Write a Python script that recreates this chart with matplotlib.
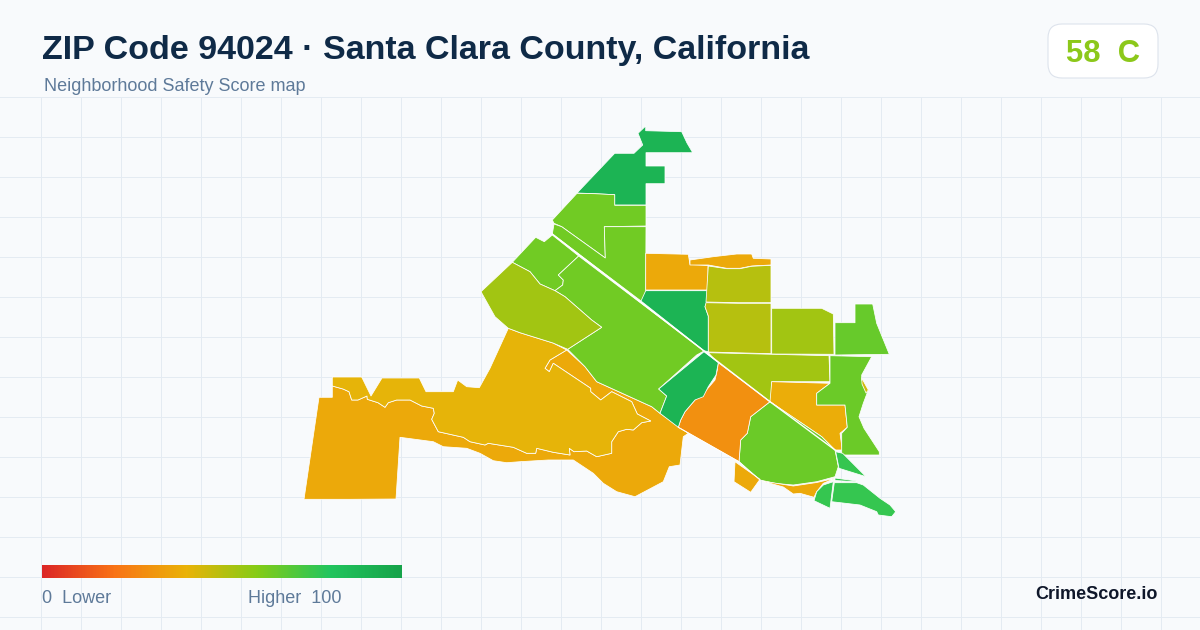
import numpy as np
import matplotlib
matplotlib.use('Agg')
import matplotlib.pyplot as plt
from matplotlib.colors import LinearSegmentedColormap
from matplotlib.patches import Polygon, FancyBboxPatch

plt.rcParams['font.family'] = ['Liberation Sans', 'DejaVu Sans']

TITLE = 'ZIP Code 94024 · Santa Clara County, California'
SUBTITLE = 'Neighborhood Safety Score map'
BADGE = '58  C'
BRAND = 'CrimeScore.io'

# colour scale stops
scale_stops = [0.0, 0.2, 0.4, 0.6, 0.8, 1.0]
scale_colors = ['#dc2626', '#f97316', '#eab308', '#84cc16', '#22c55e', '#16a34a']

# shared border between the two big southwest tracts
sw_border = [(332.3, 386), (343, 389), (349, 391.7), (351.7, 400), (358, 400), (367, 396), (367.3, 399.3),
             (378, 402.7), (385, 407.3), (388.3, 402.7), (396.7, 400), (410, 400), (421.7, 406), (433.3, 408.3),
             (434.3, 413.3), (431.7, 419.3), (438.3, 431.7), (463.3, 437.3), (470, 441.7), (485, 445),
             (488.3, 443.3), (513.3, 447.3), (526.7, 453.3), (535.7, 453.3), (536.7, 448.3), (553.3, 452.3),
             (570, 455), (569.3, 448.3), (574, 451.7), (586.7, 451), (596.7, 456.7), (611.7, 453.3),
             (611.7, 441.7), (618.3, 431.7), (626.7, 429.3), (633.3, 430), (641.7, 422.7), (650.7, 421),
             (637.3, 414), (631.7, 401.7), (611.7, 391.7), (600.7, 400), (590.7, 391.7), (590.7, 388.3),
             (553.3, 363.3), (549.3, 371.7), (545, 368.3), (550, 360), (566.7, 350)]

# tract outlines as map coordinates, with the score each one has
tract_sw_outer = ([(304, 499.3), (319, 397.3), (332.3, 397.3)] + sw_border +
                  [(585, 366.7), (596.7, 381.7), (651.7, 406.7), (660, 413.3), (688.3, 433.3), (683.3, 436.7),
                   (680, 465), (669.3, 466.7), (663.3, 481.7), (635, 496.7), (616.7, 491.7), (603.3, 483.3),
                   (593.3, 473.3), (573.3, 460), (548.3, 460), (520, 461.7), (506.7, 462.7), (493.3, 460.7),
                   (480, 453.3), (466.7, 448.3), (443.3, 446.7), (433.3, 441.7), (400, 437.3), (396, 499),
                   (350, 499.3)])
tract_sw_inner = sw_border + [(553, 343), (520, 332.7), (508.3, 328.3), (490, 368.3), (479.3, 387.7), (466.7, 386.7),
                              (457.7, 380), (453.3, 391.7), (426, 391.7), (419.3, 378), (382, 378), (371, 396),
                              (361.7, 377), (332.3, 377)]
tract_north = [(645.7, 126), (645.7, 130.7), (681.7, 131.7), (687, 143), (692.7, 152.7), (646, 152.7), (646, 166),
               (665, 166), (665, 183.7), (646, 183.7), (646, 205), (614.7, 205), (614.7, 194.7), (595, 193.7),
               (577, 193), (614.7, 153.3), (634, 153.3), (642.7, 145), (638, 133.3)]
tract_nw_a = [(577, 193.3), (595, 193.7), (614.7, 194.7), (614.7, 205.3), (646, 205.3), (646, 226), (604.3, 226.7),
              (605.3, 258), (561.7, 226.7), (554, 223.3), (552.3, 220)]
tract_nw_b = [(554, 224), (561.7, 226.7), (605.3, 258), (604.3, 226.7), (646, 226.7), (645.7, 298.3), (641, 301),
              (552.3, 234)]
tract_nw_c = [(535.7, 237.3), (544.3, 241.7), (552.3, 235), (578.7, 256), (558.3, 275), (563.3, 280), (562.7, 285),
              (555, 290.7), (540, 284), (530, 271.7), (512.3, 262.3)]
tract_centre = [(578.7, 256), (704, 351), (696.7, 355), (680, 370), (658.7, 389), (666.7, 396), (660, 413.3),
                (651.7, 406.7), (596.7, 381.7), (585, 366.7), (567.7, 349.3), (601.7, 327.3), (591.7, 320),
                (565, 296.7), (555, 290.7), (562.7, 285), (563.3, 280), (558.3, 275)]
tract_west = [(512.3, 262.3), (530, 271.7), (540, 284), (555, 290.7), (565, 296.7), (591.7, 320), (601.7, 327.3),
              (567.7, 349.3), (553, 343), (520, 332.7), (508.3, 328.3), (495, 316.7), (481, 291.7)]
tract_mid_green = [(645.7, 290.7), (707.7, 290.7), (707.3, 301.7), (705, 306.7), (708.3, 316), (708.3, 351.7),
                   (704, 350.7), (641, 301)]
tract_mid_orange = [(645.7, 253.3), (688.3, 254.3), (690, 264.5), (708, 265.5), (708, 290), (645.7, 290)]
tract_strip = [(690, 260), (713.3, 256.7), (736.7, 254), (751.7, 254), (753.3, 258.3), (771, 259), (771, 265),
               (751.7, 266), (740, 268.3), (726.7, 268.3), (708.3, 265), (690, 265)]
tract_olive_a = [(708.3, 266), (726.7, 268.7), (740, 268.7), (751.7, 266.3), (771, 265.3), (771, 302.7),
                 (738.3, 302.7), (706, 302)]
tract_olive_b = [(706, 302.7), (738, 303.3), (771, 303.3), (771, 353.7), (708.3, 352), (708.3, 316), (705, 306.7)]
tract_east_a = [(771.7, 308.3), (821.7, 308.3), (833.3, 314), (834, 354.3), (771.7, 354)]
tract_east_b = [(835, 322.7), (855, 322.7), (855, 304), (872.7, 304), (876.7, 323.3), (889.3, 354.3), (835, 355)]
tract_east_c = [(708.3, 352.7), (829, 355.7), (830, 381.7), (771.7, 381.7), (771.7, 402), (770, 401.7),
                (718.3, 363.3)]
tract_east_d = [(771.7, 381.7), (830, 383.3), (816.7, 393.3), (816.7, 405), (845, 405), (847.3, 427.3), (840, 433.3),
                (842.3, 450), (835, 450), (821.7, 436.7), (770, 401.7)]
tract_east_e = [(830, 355.7), (871.7, 356.7), (861.7, 375), (861.7, 380), (868.3, 390), (863.3, 403.3), (859, 416.7),
                (864, 428.3), (879.3, 451.7), (879.3, 455), (841.7, 455), (841.7, 433.3), (847.3, 427.3), (845, 405),
                (816.7, 405), (816.7, 393.3), (830, 383.3)]
tract_south = [(770, 401.7), (750.7, 416.7), (747.3, 433.3), (740.7, 440), (739, 461.7), (748, 470), (760, 480),
               (776, 483.5), (793.3, 485), (816.7, 481.7), (835, 476.7), (838.3, 466.7), (835, 450), (821.7, 436.7)]
tract_hot = [(718.3, 362.7), (770, 401.7), (750.7, 416.7), (747.3, 433.3), (740.7, 440), (739, 461.7), (678.3, 427.3),
             (680.7, 420), (685, 411.7), (695, 400), (705, 391.7), (715, 380), (717.3, 370)]
tract_dark = [(704, 351.7), (718.3, 362.7), (716, 375), (708.3, 386.7), (703.3, 396.7), (695, 400), (685, 411.7),
              (680.7, 420), (678.3, 427.3), (660, 413.3), (666.7, 396), (658.7, 389)]
tract_se_a = [(735, 461.7), (760, 479.3), (750.7, 492.3), (734, 481.7)]
tract_se_b = [(762, 481), (793.3, 486), (816.7, 482.5), (835, 478.3), (823.3, 483.3), (816.7, 491.7), (814, 497.3),
              (800, 493.3), (793.3, 494), (783.3, 487)]
tract_se_c = [(835.7, 451.7), (842.7, 453.3), (866, 476.7), (839, 468.3)]
tract_se_d = [(833.3, 481.7), (830, 508.3), (814, 500.7), (816.7, 491.7), (823.3, 485)]
tract_se_e = [(834.3, 482.7), (856.7, 482.7), (863.3, 485), (880, 498.3), (890, 505), (895.7, 511.7), (891.7, 516.7),
              (878.3, 515), (876.7, 511.7), (860, 505), (831.7, 501.7)]
tract_se_f = [(835, 478), (856.7, 481), (856.7, 481.8), (835, 480.5)]
tract_sliver = [(861.7, 378), (868.3, 390), (866, 393), (862, 384)]

tracts = [tract_sw_outer, tract_sw_inner, tract_north, tract_nw_a, tract_nw_b, tract_nw_c, tract_centre, tract_west,
          tract_mid_green, tract_mid_orange, tract_strip, tract_olive_a, tract_olive_b, tract_east_a, tract_east_b,
          tract_east_c, tract_east_d, tract_east_e, tract_south, tract_hot, tract_dark, tract_se_a, tract_se_b,
          tract_se_c, tract_se_d, tract_se_e, tract_se_f, tract_sliver]
scores = [37, 41, 90, 64, 64, 64, 64, 54, 90, 37, 37, 50, 50, 54, 66, 54, 38, 65, 65, 29, 90, 37, 37, 76, 76, 76, 76,
          45]

# the straight road that cuts the map diagonally
road = [(552.3, 234), (704, 351), (770, 401.7), (835, 450)]
road_lower = [(678.3, 427.3), (739, 461.7), (760, 480)]


def px(size):
    return size * 0.72


fig = plt.figure(figsize=(12, 6.3), dpi=100, facecolor='#f8fafc')
ax = fig.add_axes([0, 0, 1, 1])
ax.set_facecolor('#f8fafc')

cmap = LinearSegmentedColormap.from_list('safety', list(zip(scale_stops, scale_colors)))

# Background grid only below the header
for x in range(40, 1200, 40):
    ax.plot([x + 0.5, x + 0.5], [97, 630], color='#e4ebf2', lw=0.72, zorder=1)
for y in range(96, 630, 40):
    ax.plot([0, 1200], [y + 0.5, y + 0.5], color='#e4ebf2', lw=0.72, zorder=1)

for pts, score in zip(tracts, scores):
    ax.add_patch(Polygon(pts, closed=True, facecolor=cmap(score / 100), edgecolor='white', lw=0.55,
                         joinstyle='round', zorder=2))

ax.plot(*zip(*road), color='white', lw=1.0, zorder=3)
ax.plot(*zip(*road_lower), color='white', lw=0.7, zorder=3)

# Header
ax.text(42, 59, TITLE, fontsize=px(34), fontweight='bold', color='#0f2a47', va='baseline', ha='left', zorder=5)
ax.text(44, 90.7, SUBTITLE, fontsize=px(18), color='#5e7a99', va='baseline', ha='left', zorder=5)

ax.add_patch(FancyBboxPatch((1062, 38), 82, 26, boxstyle='round,pad=14,rounding_size=14', facecolor='white',
                            edgecolor='#dde3ec', lw=0.8, zorder=4))
ax.text(1103, 61.5, BADGE, fontsize=px(31), fontweight='bold', color='#8cc81a', va='baseline', ha='center', zorder=5)

# Colour legend
gradient = np.linspace(0, 1, 360).reshape(1, -1)
ax.imshow(gradient, cmap=cmap, extent=(42, 402, 578, 565), aspect='auto', zorder=3)
ax.text(42, 603, '0  Lower', fontsize=px(18), color='#5e7a99', va='baseline', ha='left', zorder=5)
ax.text(342, 603, 'Higher  100', fontsize=px(18), color='#5e7a99', va='baseline', ha='right', zorder=5)
ax.text(1158, 599, BRAND, fontsize=px(18), fontweight='bold', color='#0f172a', va='baseline', ha='right', zorder=5)

ax.set_xlim(0, 1200)
ax.set_ylim(630, 0)
ax.axis('off')
fig.savefig('out.png', dpi=100, facecolor=fig.get_facecolor())
